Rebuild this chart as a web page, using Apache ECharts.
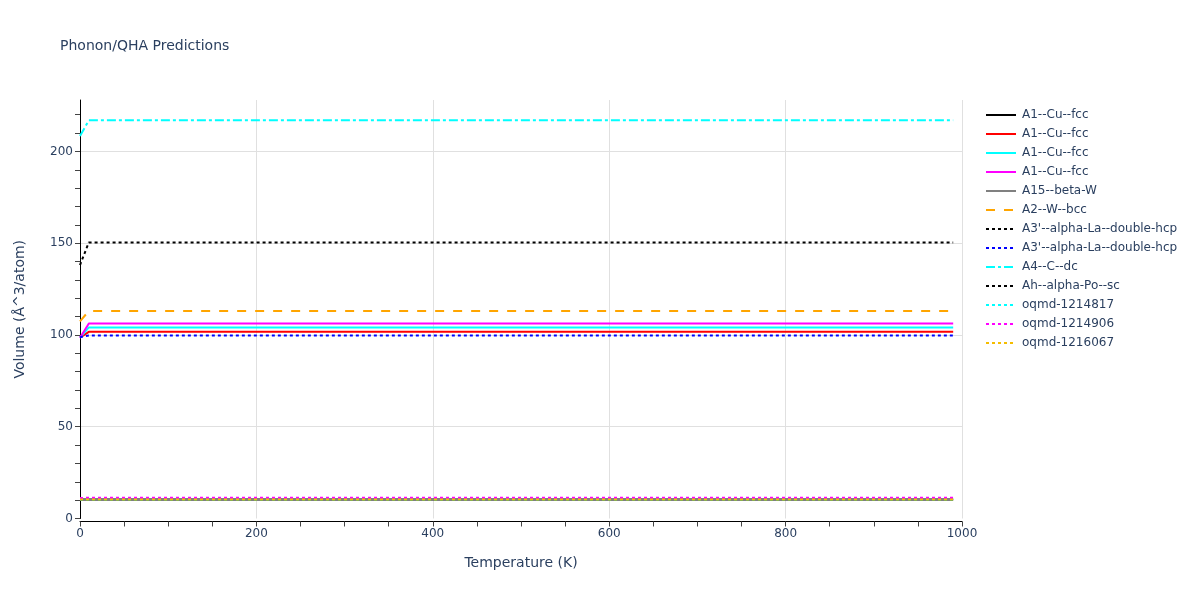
<!DOCTYPE html>
<html>
<head>
<meta charset="utf-8">
<script src="https://cdn.jsdelivr.net/npm/echarts@6/dist/echarts.min.js"></script>
<style>html,body{margin:0;padding:0;background:#fff}#c{width:1200px;height:600px}</style>
</head>
<body>
<div id="c"></div>
<script>
// Temperatures (K) at which each series is sampled
const temps = [0, 10, 990];

// Series labels (legend text), colours and dash styles
const names = [
  "A1--Cu--fcc", "A1--Cu--fcc", "A1--Cu--fcc", "A1--Cu--fcc",
  "A15--beta-W", "A2--W--bcc",
  "A3'--alpha-La--double-hcp", "A3'--alpha-La--double-hcp",
  "A4--C--dc", "Ah--alpha-Po--sc",
  "oqmd-1214817", "oqmd-1214906", "oqmd-1216067"
];
const colors = ["#000000", "#ff0000", "#00ffff", "#ff00ff", "#808080", "#ffa500",
  "#000000", "#0000ff", "#00ffff", "#000000", "#00ffff", "#ff00ff", "#f5bd00"];
const dashes = ["solid", "solid", "solid", "solid", "solid", "dash",
  "dot", "dot", "dashdot", "dot", "dot", "dot", "dot"];

// Volume (Å^3/atom) values at the temps above
const vA1_1 = [10.3, 10.4, 10.4];
const vA1_2 = [98.5, 101.7, 101.7];
const vA1_3 = [98.5, 104.1, 104.1];
const vA1_4 = [98.5, 106.2, 106.2];
const vA15 = [10.3, 10.4, 10.4];
const vA2 = [107.4, 113.1, 113.1];
const vA3_1 = [10.3, 10.4, 10.4];
const vA3_2 = [98.8, 99.7, 99.7];
const vA4 = [208.4, 216.9, 216.9];
const vAh = [138.1, 150.4, 150.4];
const vOq1 = [10.3, 10.4, 10.4];
const vOq2 = [11.2, 11.3, 11.3];
const vOq3 = [10.3, 10.4, 10.4];
const values = [vA1_1, vA1_2, vA1_3, vA1_4, vA15, vA2, vA3_1, vA3_2, vA4, vAh, vOq1, vOq2, vOq3];

const dashMap = { solid: "solid", dash: [9, 9], dot: [3, 3], dashdot: [9, 3, 3, 3] };
const font = "'DejaVu Sans', Verdana, sans-serif";
const txt = "#2a3f5f";

const series = names.map((n, i) => ({
  name: n + "#" + i,
  type: "line",
  symbol: "none",
  showSymbol: false,
  data: temps.map((t, j) => [t, values[i][j]]),
  lineStyle: { color: colors[i], width: 2, type: dashMap[dashes[i]] },
  itemStyle: { color: colors[i] },
  emphasis: { disabled: true }
}));

const xGrid = [];
for (let i = 0; i <= 20; i++) xGrid.push(i % 4 === 0 && i > 0 ? "#e0e0e0" : "rgba(0,0,0,0)");
const yGrid = [];
for (let i = 0; i <= 23; i++) yGrid.push(i % 5 === 0 && i > 0 && i < 23 ? "#e0e0e0" : "rgba(0,0,0,0)");

const chart = echarts.init(document.getElementById("c"), null, { renderer: "canvas" });
chart.setOption({
  animation: false,
  backgroundColor: "#fff",
  title: {
    text: "Phonon/QHA Predictions",
    left: 60, top: 39, padding: 0,
    textStyle: { fontFamily: font, fontSize: 14, fontWeight: "normal", color: txt }
  },
  legend: {
    orient: "vertical",
    left: 985, top: 109, padding: 0,
    itemWidth: 30, itemHeight: 14, itemGap: 7,
    itemStyle: { opacity: 0 },
    formatter: n => n.split("#")[0],
    textStyle: { fontFamily: font, fontSize: 12, color: txt, padding: [0, 0, 0, 1] },
    data: series.map(s => s.name)
  },
  grid: { left: 80, right: 238, top: 100, bottom: 81.5 },
  xAxis: {
    type: "value", min: 0, max: 1000, interval: 50,
    offset: 3,
    name: "Temperature (K)", nameLocation: "middle", nameGap: 35,
    nameTextStyle: { fontFamily: font, fontSize: 14, color: txt },
    axisLine: { show: true, onZero: false, lineStyle: { color: "#000", width: 1 } },
    axisTick: { show: true, length: 5, lineStyle: { color: "#444" } },
    axisLabel: { fontFamily: font, fontSize: 12, color: txt, margin: 6,
      formatter: v => (v % 200 === 0 ? String(v) : "") },
    splitLine: { show: true, lineStyle: { color: xGrid, width: 1 } }
  },
  yAxis: {
    type: "value", min: 0, max: 228, interval: 10,
    name: "Volume (Å^3/atom)", nameLocation: "middle", nameGap: 53,
    nameTextStyle: { fontFamily: font, fontSize: 14, color: txt },
    axisLine: { show: true, lineStyle: { color: "#000", width: 1 } },
    axisTick: { show: true, length: 5, lineStyle: { color: "#444" } },
    axisLabel: { fontFamily: font, fontSize: 12, color: txt, margin: 7, showMaxLabel: false,
      formatter: v => (v % 50 === 0 ? String(v) : "") },
    splitLine: { show: true, lineStyle: { color: yGrid, width: 1 } }
  },
  series: series
});
</script>
</body>
</html>
